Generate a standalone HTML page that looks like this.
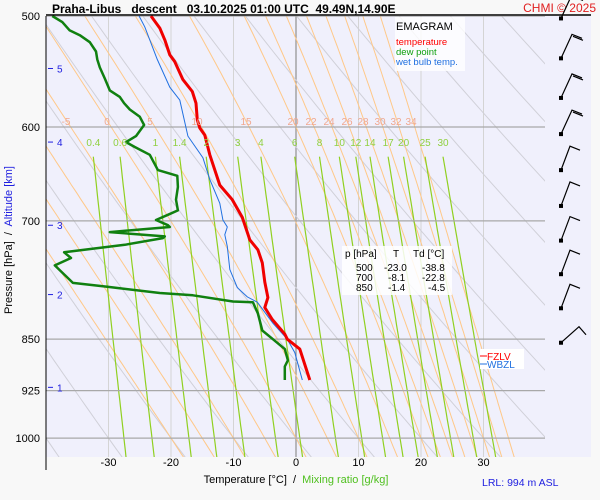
<!DOCTYPE html>
<html><head><meta charset="utf-8"><style>
body{margin:0;background:#f8f8f8;}
svg{display:block;font-family:"Liberation Sans",sans-serif;}
text{white-space:pre;}
</style></head><body>
<svg id="chart" width="600" height="500" viewBox="0 0 600 500" xml:space="preserve">
<rect x="0" y="0" width="600" height="500" fill="#f8f8f8"/>
<rect x="46" y="16" width="545" height="441" fill="#f0f0fc"/>
<defs><clipPath id="clip"><rect x="46" y="16" width="499" height="441"/></clipPath></defs>
<g id="grid" clip-path="url(#clip)"></g>
<g id="series"></g>
<g id="labels"></g>
<line x1="46" y1="15" x2="591" y2="15" stroke="#000" stroke-width="1.5"/>
<line x1="46" y1="16" x2="46" y2="470" stroke="#000"/>
<text x="52" y="13" font-size="12" font-weight="bold">Praha-Libus   descent   03.10.2025 01:00 UTC  49.49N,14.90E</text>
<text x="596" y="12" font-size="12" fill="#e02020" text-anchor="end">CHMI © 2025</text>
<g>
<rect x="395" y="17" width="70" height="54" fill="#fff" opacity="0.8"/>
<text x="396" y="30" font-size="11">EMAGRAM</text>
<text x="396" y="45" font-size="9.5" fill="#f00">temperature</text>
<text x="396" y="55" font-size="9.5" fill="#10a010">dew point</text>
<text x="396" y="65" font-size="9.5" fill="#2070e0">wet bulb temp.</text>
</g>
<g font-size="10">
<rect x="342" y="246" width="110" height="49" fill="#fff" opacity="0.85"/>
<text x="345" y="257">p [hPa]</text><text x="393" y="257">T</text><text x="413" y="257">Td [°C]</text>
<text x="356" y="271">500</text><text x="384" y="271">-23.0</text><text x="422" y="271">-38.8</text>
<text x="356" y="281">700</text><text x="388" y="281">-8.1</text><text x="422" y="281">-22.8</text>
<text x="356" y="291">850</text><text x="388" y="291">-1.4</text><text x="428" y="291">-4.5</text>
</g>
<g font-size="10">
<rect x="480" y="349" width="44" height="20" fill="#fff"/>
<line x1="480" y1="356" x2="487" y2="356" stroke="#f00"/><text x="487" y="360" fill="#f00">FZLV</text>
<line x1="480" y1="364" x2="487" y2="364" stroke="#2070e0"/><text x="487" y="368" fill="#2070e0">WBZL</text>
</g>
<text x="296" y="483" font-size="11" text-anchor="middle">Temperature [°C]  /  <tspan fill="#50c020">Mixing ratio [g/kg]</tspan></text>
<text x="482" y="486" font-size="10.5" fill="#2020e0">LRL: 994 m ASL</text>
<text transform="translate(12,240) rotate(-90)" font-size="11" text-anchor="middle">Pressure [hPa]  /  <tspan fill="#2020e0">Altitude [km]</tspan></text>
<g id="barbs"></g>
</svg>
<script>
const NS="http://www.w3.org/2000/svg";
const isobars=[500,600,700,850,925,1000];
const isotherms=[-40,-30,-20,-10,0,10,20,30,40];
const xTicks=[-30,-20,-10,0,10,20,30];
const altKm=[1,2,3,4,5];
const altP=[920,790,705,615,545];
const dryTheta=[-40,-30,-20,-10,0,10,20,30,40,50,60,70,80,90,100];
const moistThetaW=[-20,-15,-10,-5,0,5,10,15,20,22,24,26,28,30,32,34];
const moistLabels=["-5","0","5","10","15","20","22","24","26","28","30","32","34"];
const mixRatios=[0.4,0.6,1,1.4,2,3,4,6,8,10,12,14,17,20,25,30];
const tempP=[500,510,520,533,539,555,566,577,593,601,608,628,660,676,696,722,734,750,774,794,807,823,843,850,864,909];
const tempT=[-23.2,-21.8,-21.0,-20.2,-19.4,-18.1,-16.6,-16.0,-15.8,-15.4,-14.6,-13.8,-12.2,-10.2,-8.6,-7.4,-6.1,-5.4,-5.0,-4.5,-5.0,-3.8,-1.8,-1.4,0.6,2.2];
const dewP=[500,505,512,516,522,530,537,544,554,565,571,577,583,590,598,609,615,620,628,644,650,662,676,688,693,699,705,707,713,718,720,728,737,744,753,775,780,788,791,799,800,815,838,850,864,880,889,909];
const dewT=[-39.0,-37.4,-36.2,-34.6,-33.0,-32.0,-31.8,-31.4,-30.6,-29.8,-28.2,-27.5,-26.6,-25.0,-24.3,-25.6,-27.2,-25.8,-23.4,-22.1,-19.0,-18.9,-19.2,-18.9,-20.5,-22.4,-20.5,-20.2,-29.8,-21.0,-21.3,-27.4,-37.1,-36.0,-38.6,-35.7,-30.2,-21.8,-16.5,-10.1,-6.9,-6.1,-5.4,-3.7,-1.8,-1.3,-1.8,-1.8];
const wbP=[500,509,537,562,574,609,631,654,680,699,707,716,730,758,781,793,800,828,850,869,909];
const wbT=[-25.1,-24.2,-22.2,-20.2,-18.6,-17.3,-14.9,-13.8,-12.2,-11.7,-11.0,-11.4,-11.0,-10.6,-9.4,-7.8,-6.2,-3.7,-1.4,-0.2,1.0];
const barbP=[502,536,572,607,644,683,723,764,808,855];

const X=t=>296+6.25*t;
const Y=p=>16+609*Math.log(p/500);
const PMAX=1031;
const grid=document.getElementById('grid'),series=document.getElementById('series'),labels=document.getElementById('labels'),barbs=document.getElementById('barbs');
function mk(tag,attrs,parent){const e=document.createElementNS(NS,tag);for(const k in attrs)e.setAttribute(k,attrs[k]);parent.appendChild(e);return e;}
function pathD(ps,ts){return ps.map((p,i)=>(i?'L':'M')+X(ts[i]).toFixed(1)+' '+Y(p).toFixed(1)).join(' ');}
function es(T){return 6.112*Math.exp(17.67*T/(T+243.5));}

isotherms.forEach(t=>{const l=mk('line',{x1:X(t),y1:16,x2:X(t),y2:457,stroke:t===0?'#909090':'#d4d4d4','stroke-width':t===0?1.2:1},grid);

});
dryTheta.forEach(th=>{const ps=[],ts=[];for(let p=480;p<=PMAX+10;p+=10){ps.push(p);ts.push((th+273.15)*Math.pow(p/1000,0.286)-273.15);}
const e=mk('path',{d:pathD(ps,ts),fill:'none',stroke:'#d0d0d8','stroke-width':1},grid);

});
function moist(thw){const Rd=287,cp=1005,L=2.5e6,eps=0.622;
function dTdp(T,p){const Tk=T+273.15;const rs=eps*es(T)/(p-es(T));return (Rd*Tk+L*rs)/(p*(cp+L*L*rs*eps/(Rd*Tk*Tk)));}
let ps=[],ts=[];let T=thw;for(let p=1000;p>=480;p-=5){ps.unshift(p);ts.unshift(T);T-=5*dTdp(T,p);}
T=thw;for(let p=1000;p<=PMAX+10;p+=5){if(p>1000){ps.push(p);ts.push(T);}T+=5*dTdp(T,p);}
return [ps,ts];}
moistThetaW.forEach(th=>{const [ps,ts]=moist(th);const e=mk('path',{d:pathD(ps,ts),fill:'none',stroke:'#ffc888','stroke-width':1},grid);

});
mixRatios.forEach(w=>{const ps=[],ts=[];for(let p=630;p<=PMAX+10;p+=10){const e=w*p/(622+w);const a=Math.log(e/6.112);ps.push(p);ts.push(243.5*a/(17.67-a));}
const e=mk('path',{d:pathD(ps,ts),fill:'none',stroke:'#90d020','stroke-width':1.2},grid);


const t=mk('text',{x:X(ts[0]),y:146,'font-size':10,fill:'#90d040','text-anchor':'middle'},labels);t.textContent=String(w);

});
const mlx=[66,107,150,197,246,293,311,329,347,363,380,396,411];
moistLabels.forEach((s,i)=>{const t=mk('text',{x:mlx[i],y:125,'font-size':10,fill:'#f0a890','text-anchor':'middle'},labels);t.textContent=s;

});
isobars.forEach(p=>{const l=mk('line',{x1:46,y1:Y(p),x2:545,y2:Y(p),stroke:'#a8a8a8','stroke-width':1.2},grid);


const t=mk('text',{x:40,y:Y(p)+4,'font-size':11,'text-anchor':'end'},labels);t.textContent=String(p);

});
xTicks.forEach(v=>{const t=mk('text',{x:X(v),y:466,'font-size':11,'text-anchor':'middle'},labels);t.textContent=String(v);

});
altKm.forEach((k,i)=>{const y=Y(altP[i]);mk('line',{x1:48,y1:y,x2:53,y2:y,stroke:'#2020e0'},labels);
const t=mk('text',{x:57,y:y+4,'font-size':10,fill:'#2020e0'},labels);t.textContent=String(k);

});

const wb=mk('path',{d:pathD(wbP,wbT),fill:'none',stroke:'#2070e0','stroke-width':1},series);


const dp=mk('path',{d:pathD(dewP,dewT),fill:'none',stroke:'#108010','stroke-width':2.5,'stroke-linejoin':'round'},series);


const tp=mk('path',{d:pathD(tempP,tempT),fill:'none',stroke:'#f00000','stroke-width':3,'stroke-linejoin':'round'},series);



barbP.forEach((p,i)=>{const y=Y(p),x=561;const last=i===barbP.length-1;
let d;
if(last){d=`M${x} ${y} L${x+18} ${y-16} L${x+25} ${y-8}`;}
else{const tx=x+9+(i<4?2:0),ty=y-24;d=`M${x} ${y} L${tx} ${ty} L${tx+10} ${ty+4}`;if(i<4)d+=` M${tx+1} ${ty+2} L${tx+11} ${ty+6}`;}
const e=mk('path',{d:d,fill:'none',stroke:'#000','stroke-width':1.2},barbs);


mk('rect',{x:x-2,y:y-2,width:4,height:4,fill:'#000'},barbs);});
</script>
</body></html>
